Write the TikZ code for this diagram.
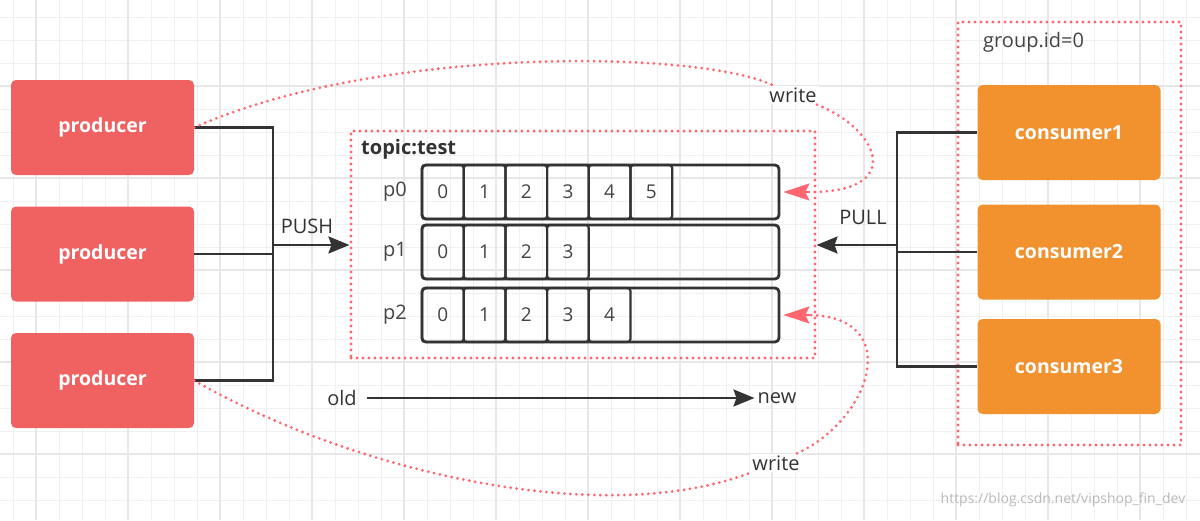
\documentclass[tikz,border=0pt]{standalone}
\usepackage{fontspec}
\setmainfont{Open Sans}
\usetikzlibrary{arrows.meta}
\definecolor{prodred}{HTML}{F06262}
\definecolor{consorange}{HTML}{F2922F}
\definecolor{dotred}{HTML}{FF6670}
\definecolor{ink}{HTML}{333333}
\definecolor{txt}{HTML}{444444}
\definecolor{gridminor}{HTML}{F0F0F0}
\definecolor{gridmajor}{HTML}{E7E7E7}
\tikzset{
  prodbox/.style={fill=prodred, rounded corners=5pt, text=white, inner sep=0pt,
    minimum width=183pt, minimum height=95pt, font=\bfseries\fontsize{19.5}{23}\selectfont},
  consbox/.style={prodbox, fill=consorange},
  conn/.style={draw=ink, line width=2.4pt},
  bigtip/.style={-{Stealth[length=21pt,width=17pt,inset=3pt]}},
  redtip/.style={-{Stealth[length=26pt,width=17pt,inset=4pt]}},
  reddots/.style={draw=dotred, line width=3.1pt, line cap=round, dash pattern=on 0pt off 6pt},
  redframe/.style={reddots, inner sep=0pt},
  lbl/.style={text=ink, inner sep=0pt, font=\fontsize{20}{24}\selectfont},
  wlbl/.style={lbl, fill=white, inner sep=2pt},
  cellbox/.style={draw=ink, line width=2.2pt, rounded corners=3pt, minimum width=41.7pt,
    minimum height=54pt, inner sep=0pt, text=txt, font=\fontsize{19}{23}\selectfont},
  rowbox/.style={draw=ink, line width=2.8pt, rounded corners=4pt, minimum width=357pt,
    minimum height=54pt, inner sep=0pt},
}
\begin{document}
\begin{tikzpicture}[x=1pt,y=-1pt]
\useasboundingbox (0,0) rectangle (1200,520);
\fill[white] (0,0) rectangle (1200,520);
% grid
\foreach \gx in {13,36,...,1200} \draw[gridminor, line width=1pt] (\gx,0) -- (\gx,520);
\foreach \gy in {17,40,...,520} \draw[gridminor, line width=1pt] (0,\gy) -- (1200,\gy);
\foreach \gx in {36,128,...,1200} \draw[gridmajor, line width=1.2pt] (\gx,0) -- (\gx,520);
\foreach \gy in {86,178,...,520} \draw[gridmajor, line width=1.2pt] (0,\gy) -- (1200,\gy);

% frames
\node[redframe, minimum width=464pt, minimum height=227pt] (topic) at (583,244.5) {};
\node[lbl, anchor=west, font=\bfseries\fontsize{20}{24}\selectfont] (topiclbl) at (361,149) {topic:test};
\node[redframe, minimum width=223pt, minimum height=423pt] (group) at (1069.5,233.5) {};
\node[lbl, anchor=west, text=txt] (grouplbl) at (983,42) {group.id=0};

% producers
\node[prodbox] (p1) at (102.5,127.5) {producer};
\node[prodbox] (p2) at (102.5,254) {producer};
\node[prodbox] (p3) at (102.5,380.5) {producer};

% consumers
\node[consbox] (c1) at (1069,132.5) {consumer1};
\node[consbox] (c2) at (1069,252) {consumer2};
\node[consbox] (c3) at (1069,366.5) {consumer3};

% partitions
\foreach \r/\y/\k in {0/192/6,1/252/4,2/315/5} {
  \node[lbl, text=txt] (pl\r) at (395,\y) {p\r};
  \foreach \i in {1,...,\k} {
    \pgfmathsetmacro\cx{422+41.7*(\i-0.5)}
    \pgfmathtruncatemacro\d{\i-1}
    \node[cellbox] (cell\r\i) at (\cx,\y) {\d};
  }
  \node[rowbox] (row\r) at (600.5,\y) {};
}

% push side
\coordinate (pushjoin) at (273,245);
\draw[conn] (p1.east) -| (pushjoin) |- (p3.east);
\draw[conn] (p2.east) -- (p2.east -| pushjoin);
\draw[conn, bigtip] (pushjoin) -- (topic.west |- pushjoin);
\node[lbl] (push) at (307,226) {PUSH};

% pull side
\coordinate (pulljoin) at (897,245);
\draw[conn] (c1.west) -| (pulljoin) |- (c3.west);
\draw[conn] (c2.west) -- (c2.west -| pulljoin);
\draw[conn, bigtip] (pulljoin) -- (topic.east |- pulljoin);
\node[lbl] (pull) at (863,217) {PULL};

% old -> new
\node[lbl] (old) at (342,398) {old};
\node[lbl] (new) at (777,398) {new};
\draw[conn, bigtip] ([xshift=10pt]old.east) -- ([xshift=-3pt]new.west);

% write curves
\node[wlbl] (w1) at (793,95) {write};
\node[wlbl] (w2) at (776,463) {write};
\coordinate (t0) at ([xshift=30pt]row0.east);
\coordinate (t2) at ([xshift=30pt]row2.east);
\draw[reddots] (p1.east) .. controls (380,45) and (700,50) .. (w1);
\draw[reddots] (w1) .. controls (880,130) and (905,192) .. (t0);
\draw[draw=dotred, line width=1.5pt, redtip] (t0) -- ([xshift=3pt]row0.east);
\draw[reddots] (p3.east) .. controls (350,470) and (600,530) .. (w2);
\draw[reddots] (w2) .. controls (870,420) and (905,318) .. (t2);
\draw[draw=dotred, line width=1.5pt, redtip] (t2) -- ([xshift=3pt]row2.east);

% watermark
\node[text=gray!55, inner sep=0pt, font=\fontsize{14}{16}\selectfont] (wm) at (1063,500) {https://blog.csdn.net/vipshop\_fin\_dev};
\end{tikzpicture}
\end{document}
